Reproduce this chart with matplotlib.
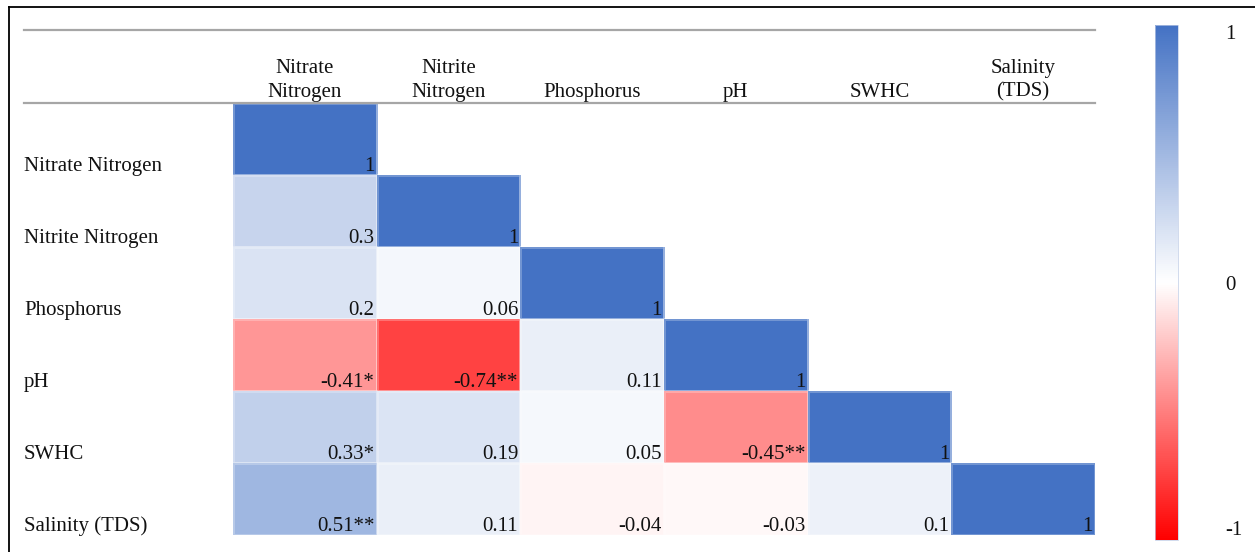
import numpy as np
import matplotlib
matplotlib.use("Agg")
import matplotlib.pyplot as plt
from matplotlib.colors import LinearSegmentedColormap
from matplotlib.lines import Line2D
from matplotlib.transforms import blended_transform_factory

plt.rcParams['font.family'] = ['Liberation Serif', 'DejaVu Serif']

# ---- data ----
row_labels = ["Nitrate Nitrogen", "Nitrite Nitrogen", "Phosphorus", "pH", "SWHC", "Salinity (TDS)"]
col_labels = ["Nitrate\nNitrogen", "Nitrite\nNitrogen", "Phosphorus", "pH", "SWHC", "Salinity\n(TDS)"]

r_nitrate = [1]
r_nitrite = [0.3, 1]
r_phos = [0.2, 0.06, 1]
r_ph = [-0.41, -0.74, 0.11, 1]
r_swhc = [0.33, 0.19, 0.05, -0.45, 1]
r_tds = [0.51, 0.11, -0.04, -0.03, 0.1, 1]

stars_ph = ["*", "**", "", ""]
stars_swhc = ["*", "", "", "**", ""]
stars_tds = ["**", "", "", "", "", ""]

rows = [r_nitrate, r_nitrite, r_phos, r_ph, r_swhc, r_tds]
stars = [[""], ["", ""], ["", "", ""], stars_ph, stars_swhc, stars_tds]

cbar_ticks = [-1, 0, 1]

n = len(row_labels)
mat = np.full((n, n), np.nan)
for i, r in enumerate(rows):
    mat[i, :len(r)] = r
mat = np.ma.masked_invalid(mat)

cmap = LinearSegmentedColormap.from_list("excel", ["#FF0000", "#FFFFFF", "#4472C4"])

W, H = 1255, 552
fig = plt.figure(figsize=(W / 100, H / 100), dpi=100)

# heatmap area
ax = fig.add_axes([233 / W, 1 - 535 / H, 862 / W, 432 / H])
mesh = ax.pcolormesh(mat, cmap=cmap, vmin=-1, vmax=1,
                     edgecolors=(1, 1, 1, 0.25), linewidth=1)
ax.set_xlim(0, n)
ax.set_ylim(n, 0)
ax.axis('off')

fs = 15
tc = '#111111'

# cell values, bottom-right aligned
for i, r in enumerate(rows):
    for j, v in enumerate(r):
        ax.text(j + 0.985, i + 0.94, f"{v:g}" + stars[i][j],
                ha='right', va='baseline', fontsize=fs, color=tc)

# column headers
for j, lab in enumerate(col_labels):
    lines = lab.split("\n")
    for k, line in enumerate(reversed(lines)):
        ax.text(j + 0.5, -0.085 - k * 0.335, line,
                ha='center', va='baseline', fontsize=fs, color=tc)

# row labels at fixed left position
trans = blended_transform_factory(fig.transFigure, ax.transData)
for i, lab in enumerate(row_labels):
    ax.text(24 / W, i + 0.94, lab, transform=trans,
            ha='left', va='baseline', fontsize=fs, color=tc)

# table rules
for ypx in (30, 103):
    fig.add_artist(Line2D([24 / W, 1095 / W], [1 - ypx / H, 1 - ypx / H],
                          color='#A6A6A6', lw=1.6))

# outer frame (left and top)
fig.add_artist(Line2D([9 / W, 9 / W], [0, 1 - 7 / H], color='black', lw=1.3))
fig.add_artist(Line2D([9 / W, 1], [1 - 7 / H, 1 - 7 / H], color='black', lw=1.3))

# colorbar
cax = fig.add_axes([1155 / W, 1 - 540 / H, 23 / W, 515 / H])
cb = fig.colorbar(mesh, cax=cax, ticks=cbar_ticks)
cb.outline.set_edgecolor((0.75, 0.8, 0.9))
cb.outline.set_linewidth(0.5)
cb.ax.set_yticklabels([f"{t:g}" for t in cbar_ticks])
cax.tick_params(length=0, pad=34, labelsize=fs)
labs = cax.get_yticklabels()
labs[0].set_va('bottom')
labs[-1].set_va('top')
for lb in labs:
    lb.set_color(tc)

fig.savefig("out.png", dpi=100)
